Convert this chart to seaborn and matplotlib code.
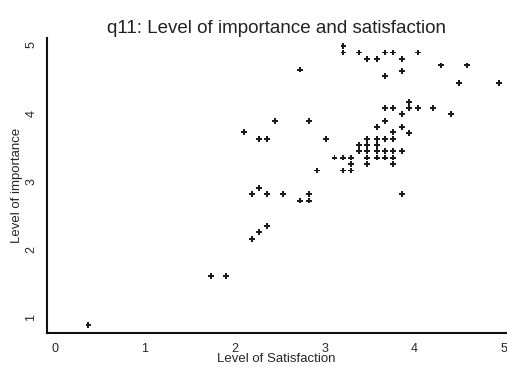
import matplotlib
matplotlib.use("Agg")
import matplotlib.pyplot as plt
import pandas as pd
import seaborn as sns

# satisfaction (x) / importance (y)
satisfaction = [0.37, 1.73, 1.90, 2.19, 2.27, 2.36, 2.19, 2.27, 2.36, 2.54,
                2.73, 2.83, 2.83, 2.92, 3.02, 2.10, 2.27, 2.36, 2.45, 2.83,
                2.73, 3.21, 3.21, 3.38, 3.47, 3.58, 3.67, 3.76, 3.86, 4.04,
                3.86, 3.67, 4.30, 4.59, 4.50, 4.94, 3.94, 3.67, 3.76, 3.94,
                4.04, 4.21, 3.86, 4.41, 3.67, 3.58, 3.86, 3.76, 3.94, 3.47,
                3.58, 3.67, 3.76, 3.38, 3.47, 3.58, 3.38, 3.47, 3.58, 3.67,
                3.76, 3.86, 3.11, 3.20, 3.29, 3.47, 3.58, 3.67, 3.76, 3.29,
                3.47, 3.76, 3.20, 3.29, 3.86]
importance = [0.90, 1.62, 1.62, 2.16, 2.26, 2.35, 2.81, 2.90, 2.81, 2.81,
              2.72, 2.81, 2.72, 3.16, 3.62, 3.72, 3.62, 3.62, 3.89, 3.89,
              4.64, 4.99, 4.89, 4.89, 4.80, 4.80, 4.89, 4.89, 4.80, 4.89,
              4.62, 4.54, 4.70, 4.70, 4.44, 4.44, 4.17, 4.08, 4.08, 4.08,
              4.08, 4.08, 3.99, 3.99, 3.89, 3.80, 3.80, 3.72, 3.71, 3.62,
              3.62, 3.62, 3.62, 3.53, 3.53, 3.53, 3.44, 3.44, 3.44, 3.44,
              3.44, 3.44, 3.35, 3.35, 3.35, 3.35, 3.35, 3.35, 3.35, 3.26,
              3.26, 3.26, 3.16, 3.16, 2.81]

xticks = [0, 1, 2, 3, 4, 5]
yticks = [1, 2, 3, 4, 5]

df = pd.DataFrame({"sat": satisfaction, "imp": importance})

sns.set_style("white")
plt.rcParams['font.family'] = ['Liberation Sans', 'DejaVu Sans']

fig = plt.figure(figsize=(5.07, 3.67), dpi=100)
ax = fig.add_axes([0.093, 0.093, 0.905, 0.803])
sns.scatterplot(data=df, x="sat", y="imp", ax=ax, marker="P", s=18,
                color="#1a1a1a", edgecolor="none", linewidth=0)

ax.set_xlim(-0.09, 5.02)
ax.set_ylim(0.78, 5.1)
ax.set_xticks(xticks)
ax.set_yticks(yticks)
ax.set_xticklabels([str(t) for t in xticks], fontsize=9)
ax.set_yticklabels([str(t) for t in yticks], fontsize=9, rotation=90, va="center")
ax.tick_params(axis="both", direction="out", length=3, width=1, color="#222222", pad=4)

for s in ["top", "right"]:
    ax.spines[s].set_visible(False)
for s in ["left", "bottom"]:
    ax.spines[s].set_color("#111111")
    ax.spines[s].set_linewidth(1.5)

ax.set_xlabel("Level of Satisfaction", fontsize=9.5, labelpad=-1)
ax.set_ylabel("Level of importance", fontsize=9.5, labelpad=2)
ax.set_title("q11: Level of importance and satisfaction", fontsize=13.5, pad=4,
             color="#222222")

fig.savefig("out.png", dpi=100)
